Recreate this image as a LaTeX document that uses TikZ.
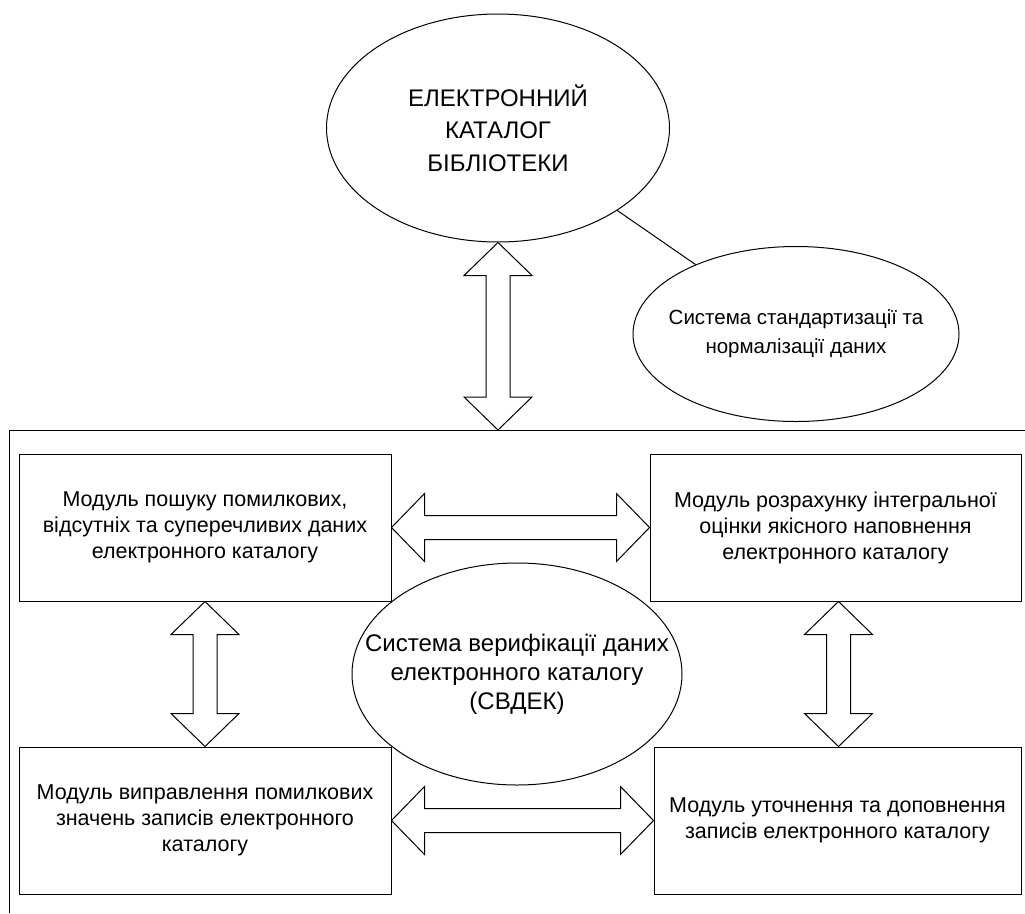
\documentclass[tikz,border=0pt]{standalone}
\usepackage{fontspec}
\setmainfont{Liberation Sans}
\usetikzlibrary{shapes.geometric,calc}

\tikzset{
	modbox/.style={draw, line width=1pt, minimum width=372pt, minimum height=147pt, inner sep=0pt, align=center, font=\fontsize{21.5}{26}\selectfont},
	oval/.style={draw, ellipse, line width=1pt, inner sep=0pt},
	ovaltext/.style={align=center, font=\fontsize{#1}{29}\selectfont},
	fatarr/.style={draw, line width=1pt, fill=white, line join=miter}
}

% double block arrow between two points
\newcommand{\fatarrow}[2]{%
	\path[fatarr] let \p1=(#1), \p2=(#2), \n1={atan2(\y2-\y1,\x2-\x1)}, \n2={veclen(\x2-\x1,\y2-\y1)} in
		[shift={(\p1)}, rotate=\n1] (0,0) -- (33,34) -- (33,12) -- (\n2-33,12) -- (\n2-33,34) -- (\n2,0)
		-- (\n2-33,-34) -- (\n2-33,-12) -- (33,-12) -- (33,-34) -- cycle;
}

\begin{document}
\begin{tikzpicture}[x=1pt, y=-1pt]
	\useasboundingbox (0,0) rectangle (1025,913);

	% ellipses
	\node[oval, minimum width=343pt, minimum height=228pt,
		label={[align=center, font=\fontsize{24}{32.5}\selectfont]center:ЕЛЕКТРОННИЙ\\КАТАЛОГ\\БІБЛІОТЕКИ}] (catalog) at (498,128) {};
	\node[oval, minimum width=326pt, minimum height=175pt,
		label={[ovaltext=20.5]center:Система стандартизації та\\нормалізації даних}] (stdz) at (796,334) {};
	\draw[line width=1pt] (catalog) -- (stdz);

	% frame of the system
	\draw[line width=1pt] (1025,430) -- (9,430) -- (9,913);
	\coordinate (frametop) at (498,430);

	% modules
	\node[modbox] (search) at (205,527.5) {Модуль пошуку помилкових,\\відсутніх та суперечливих даних\\електронного каталогу};
	\node[modbox, minimum width=371pt] (rating) at (835.5,527.5) {Модуль розрахунку інтегральної\\оцінки якісного наповнення\\електронного каталогу};
	\node[modbox] (fix) at (205,820.5) {Модуль виправлення помилкових\\значень записів електронного\\каталогу};
	\node[modbox, minimum width=367pt] (refine) at (837.5,820.5) {Модуль уточнення та доповнення\\записів електронного каталогу};

	\node[oval, minimum width=330pt, minimum height=222pt,
		label={[ovaltext=24]center:Система верифікації даних\\електронного каталогу\\(СВДЕК)}] (svdek) at (517,674) {};

	% arrows
	\fatarrow{catalog.south}{frametop}
	\fatarrow{search.east}{rating.west}
	\fatarrow{fix.east}{refine.west}
	\fatarrow{search.south}{fix.north}
	\fatarrow{[xshift=3pt]rating.south}{[xshift=3pt]rating.south |- refine.north}
\end{tikzpicture}
\end{document}
